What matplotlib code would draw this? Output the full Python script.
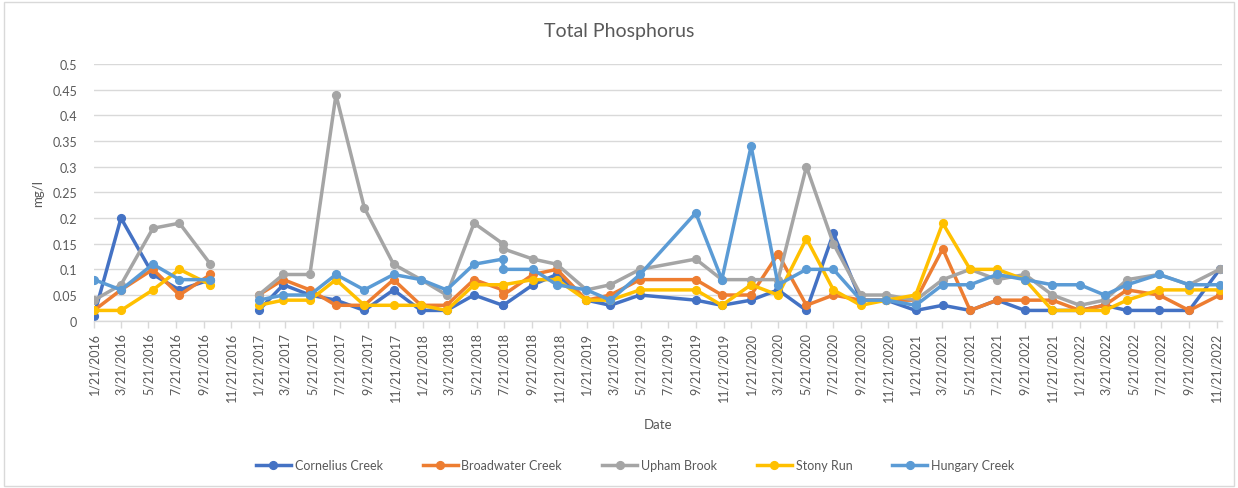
import matplotlib
matplotlib.use("Agg")
import matplotlib.pyplot as plt
from matplotlib.lines import Line2D
from matplotlib.patches import Rectangle
import numpy as np
import pandas as pd

plt.rcParams['font.family'] = ['Lato', 'DejaVu Sans']

dates = ['2016-01-21', '2016-03-21', '2016-05-31', '2016-07-29', '2016-10-06', '2016-11-21',
         '2017-01-21', '2017-03-17', '2017-05-15', '2017-07-12', '2017-09-13', '2017-11-17',
         '2018-01-17', '2018-03-15', '2018-05-15', '2018-07-18', '2018-07-19', '2018-09-23', '2018-11-15',
         '2019-01-20', '2019-03-14', '2019-05-19', '2019-09-20', '2019-11-17',
         '2020-01-21', '2020-03-21', '2020-05-23', '2020-07-22', '2020-09-21', '2020-11-17',
         '2021-01-21', '2021-03-22', '2021-05-22', '2021-07-21', '2021-09-21', '2021-11-21',
         '2022-01-21', '2022-03-17', '2022-05-06', '2022-07-16', '2022-09-21', '2022-11-28']

cornelius = [0.01, 0.20, 0.09, 0.06, 0.08, None,
             0.02, 0.07, 0.05, 0.04, 0.02, 0.06,
             0.02, 0.02, 0.05, 0.03, 0.03, 0.07, 0.09,
             0.04, 0.03, 0.05, 0.04, 0.03,
             0.04, 0.06, 0.02, 0.17, 0.04, 0.04,
             0.02, 0.03, 0.02, 0.04, 0.02, 0.02,
             0.02, 0.03, 0.02, 0.02, 0.02, 0.10]
broadwater = [0.02, 0.06, 0.10, 0.05, 0.09, None,
              0.05, 0.08, 0.06, 0.03, 0.03, 0.08,
              0.03, 0.03, 0.08, 0.06, 0.05, 0.09, 0.10,
              0.04, 0.05, 0.08, 0.08, 0.05,
              0.05, 0.13, 0.03, 0.05, 0.04, 0.04,
              0.04, 0.14, 0.02, 0.04, 0.04, 0.04,
              0.02, 0.03, 0.06, 0.05, 0.02, 0.05]
upham = [0.04, 0.07, 0.18, 0.19, 0.11, None,
         0.05, 0.09, 0.09, 0.44, 0.22, 0.11,
         0.08, 0.05, 0.19, 0.15, 0.14, 0.12, 0.11,
         0.06, 0.07, 0.10, 0.12, 0.08,
         0.08, 0.08, 0.30, 0.15, 0.05, 0.05,
         0.04, 0.08, 0.10, 0.08, 0.09, 0.05,
         0.03, 0.04, 0.08, 0.09, 0.07, 0.10]
stony = [0.02, 0.02, 0.06, 0.10, 0.07, None,
         0.03, 0.04, 0.04, 0.08, 0.03, 0.03,
         0.03, 0.02, 0.07, 0.07, 0.07, 0.08, 0.08,
         0.04, 0.04, 0.06, 0.06, 0.03,
         0.07, 0.05, 0.16, 0.06, 0.03, 0.04,
         0.05, 0.19, 0.10, 0.10, 0.08, 0.02,
         0.02, 0.02, 0.04, 0.06, 0.06, 0.06]
hungary = [0.08, 0.06, 0.11, 0.08, 0.08, None,
           0.04, 0.05, 0.05, 0.09, 0.06, 0.09,
           0.08, 0.06, 0.11, 0.12, 0.10, 0.10, 0.07,
           0.06, 0.04, 0.09, 0.21, 0.08,
           0.34, 0.07, 0.10, 0.10, 0.04, 0.04,
           0.03, 0.07, 0.07, 0.09, 0.08, 0.07,
           0.07, 0.05, 0.07, 0.09, 0.07, 0.07]

series_names = ['Cornelius Creek', 'Broadwater Creek', 'Upham Brook', 'Stony Run', 'Hungary Creek']
series_values = [cornelius, broadwater, upham, stony, hungary]
colors = ['#4472C4', '#ED7D31', '#A5A5A5', '#FFC000', '#5B9BD5']

y_ticks = [0, 0.05, 0.1, 0.15, 0.2, 0.25, 0.3, 0.35, 0.4, 0.45, 0.5]
y_tick_labels = ['0', '0.05', '0.1', '0.15', '0.2', '0.25', '0.3', '0.35', '0.4', '0.45', '0.5']
x_tick_start, x_tick_end = '2016-01-21', '2022-11-21'

text_color = '#595959'
grid_color = '#D9D9D9'

fig = plt.figure(figsize=(12.38, 4.89), dpi=100)
ax = fig.add_axes([94 / 1238, 1 - 321.7 / 489, (1222 - 94) / 1238, (321.7 - 65) / 489])

x = pd.to_datetime(dates)
for name, vals, c in zip(series_names, series_values, colors):
    v = np.array([np.nan if t is None else t for t in vals], dtype=float)
    ax.plot(x, v, color=c, lw=2.5, marker='o', ms=5.6, label=name,
            solid_capstyle='round', solid_joinstyle='round')

ax.set_ylim(0, 0.5)
ax.set_yticks(y_ticks)
ax.set_yticklabels(y_tick_labels)
ax.set_xlim(pd.Timestamp('2016-01-21'), pd.Timestamp('2022-12-03'))

xt = pd.date_range(x_tick_start, x_tick_end, freq=pd.DateOffset(months=2))
ax.set_xticks(xt)
ax.set_xticklabels([f"{d.month}/{d.day}/{d.year}" for d in xt], rotation=90)

ax.grid(axis='y', color=grid_color, lw=1)
ax.set_axisbelow(True)
for s in ['top', 'right', 'left']:
    ax.spines[s].set_visible(False)
ax.spines['bottom'].set_color(grid_color)
ax.spines['bottom'].set_linewidth(1)
ax.tick_params(axis='y', length=0, pad=12, labelsize=9, labelcolor=text_color)
ax.tick_params(axis='x', length=5, width=1, color=grid_color, pad=3, labelsize=9, labelcolor=text_color)

ax.set_xlabel('Date', fontsize=9.5, color=text_color, labelpad=12)
ax.set_ylabel('mg/l', fontsize=9.5, color=text_color, labelpad=6)
fig.text(0.5, 1 - 32 / 489, 'Total Phosphorus', ha='center', va='center', fontsize=14, color=text_color)

handles = [Line2D([0], [0], color=c, lw=2.5, marker='o', ms=5.6) for c in colors]
fig.legend(handles, series_names, loc='center', bbox_to_anchor=(0.513, 1 - 466 / 489), ncol=5,
           frameon=False, fontsize=9, labelcolor=text_color, handlelength=2.8, columnspacing=3.2,
           handletextpad=0.3)

fig.patches.append(Rectangle((0.003, 0.004), 0.994, 0.99, transform=fig.transFigure, fill=False,
                             edgecolor=grid_color, lw=1))

fig.savefig('out.png', dpi=100)
